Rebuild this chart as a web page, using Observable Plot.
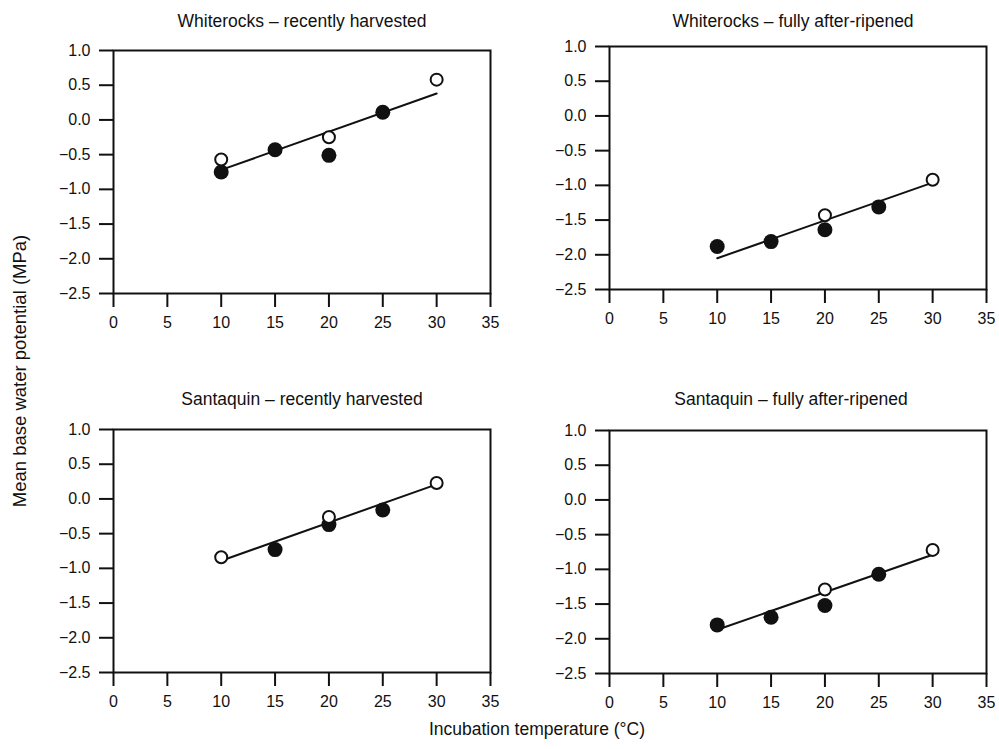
<!DOCTYPE html>
<html>
<head>
<meta charset="utf-8">
<script src="https://cdn.jsdelivr.net/npm/d3@7"></script>
<script src="https://cdn.jsdelivr.net/npm/@observablehq/plot@0.6"></script>
<style>
  html, body { margin: 0; padding: 0; background: #fff; }
  #wrap { position: relative; width: 999px; height: 749px; overflow: hidden; background: #fff;
          font-family: "Liberation Sans", Arial, Helvetica, sans-serif; color: #111; }
  #wrap > svg, #wrap > .p { position: absolute; }
</style>
</head>
<body>
<div id="wrap"></div>
<script>
// ---- data ----
const xTicks = [0, 5, 10, 15, 20, 25, 30, 35];
const yTicks = [-2.5, -2.0, -1.5, -1.0, -0.5, 0.0, 0.5, 1.0];
const fitTemp = [10, 30];

// Whiterocks – recently harvested
const wrRhTitle = "Whiterocks – recently harvested";
const wrRhFilledTemp = [10, 15, 20, 25];
const wrRhFilled = [-0.75, -0.43, -0.51, 0.11];
const wrRhOpenTemp = [10, 20, 30];
const wrRhOpen = [-0.57, -0.25, 0.58];
const wrRhFit = [-0.72, 0.38];

// Whiterocks – fully after-ripened
const wrFaTitle = "Whiterocks – fully after-ripened";
const wrFaFilledTemp = [10, 15, 20, 25];
const wrFaFilled = [-1.88, -1.81, -1.64, -1.31];
const wrFaOpenTemp = [20, 30];
const wrFaOpen = [-1.43, -0.92];
const wrFaFit = [-2.05, -0.96];

// Santaquin – recently harvested
const sqRhTitle = "Santaquin – recently harvested";
const sqRhFilledTemp = [15, 20, 25];
const sqRhFilled = [-0.73, -0.37, -0.16];
const sqRhOpenTemp = [10, 20, 30];
const sqRhOpen = [-0.84, -0.26, 0.23];
const sqRhFit = [-0.89, 0.21];

// Santaquin – fully after-ripened
const sqFaTitle = "Santaquin – fully after-ripened";
const sqFaFilledTemp = [10, 15, 20, 25];
const sqFaFilled = [-1.80, -1.69, -1.52, -1.07];
const sqFaOpenTemp = [20, 30];
const sqFaOpen = [-1.29, -0.72];
const sqFaFit = [-1.87, -0.79];

const xLabel = "Incubation temperature (°C)";
const yLabel = "Mean base water potential (MPa)";

// ---- drawing ----
const wrap = document.getElementById("wrap");
const ink = "#111";
const fmt = d3.format(".1f");
const pairs = (a, b) => a.map((t, i) => ({t, v: b[i]}));

function panel(cfg) {
  const svg = Plot.plot({
    width: 447,
    height: 328,
    marginLeft: 60,
    marginRight: 10,
    marginTop: 40,
    marginBottom: 45,
    style: {fontSize: "16px", fontFamily: "'Liberation Sans', Arial, Helvetica, sans-serif", color: ink, background: "transparent", overflow: "visible"},
    x: {domain: [0, 35]},
    y: {domain: [-2.5, 1.0]},
    marks: [
      Plot.axisX({ticks: xTicks, tickSize: 14, tickPadding: 9, strokeWidth: 2, label: null, tickFormat: d => String(d)}),
      Plot.axisY({ticks: yTicks, tickSize: 14, tickPadding: 9, strokeWidth: 2, label: null, tickFormat: fmt}),
      Plot.frame({stroke: ink, strokeWidth: 2}),
      Plot.line(pairs(fitTemp, cfg.fit), {x: "t", y: "v", stroke: ink, strokeWidth: 2}),
      Plot.dot(pairs(cfg.filledT, cfg.filled), {x: "t", y: "v", r: 7.5, fill: ink, stroke: null}),
      Plot.dot(pairs(cfg.openT, cfg.open), {x: "t", y: "v", r: 6, fill: "#fff", stroke: ink, strokeWidth: 2}),
      Plot.text([cfg.title], {text: d => d, frameAnchor: "top", lineAnchor: "bottom", dy: cfg.titleDy, dx: cfg.titleDx || 0, fontSize: 17.5, fill: ink})
    ]
  });
  svg.style.left = cfg.left + "px";
  svg.style.top = cfg.top + "px";
  svg.style.position = "absolute";
  wrap.appendChild(svg);
}

panel({title: wrRhTitle, filledT: wrRhFilledTemp, filled: wrRhFilled, openT: wrRhOpenTemp, open: wrRhOpen, fit: wrRhFit, left: 53, top: 10, titleDy: -24});
panel({title: wrFaTitle, filledT: wrFaFilledTemp, filled: wrFaFilled, openT: wrFaOpenTemp, open: wrFaOpen, fit: wrFaFit, left: 549, top: 6, titleDy: -20, titleDx: -5});
panel({title: sqRhTitle, filledT: sqRhFilledTemp, filled: sqRhFilled, openT: sqRhOpenTemp, open: sqRhOpen, fit: sqRhFit, left: 53, top: 389, titleDy: -25});
panel({title: sqFaTitle, filledT: sqFaFilledTemp, filled: sqFaFilled, openT: sqFaOpenTemp, open: sqFaOpen, fit: sqFaFit, left: 549, top: 390, titleDy: -26, titleDx: -7});

// shared axis labels
const ov = d3.select(wrap).append("svg")
  .attr("width", 999).attr("height", 749)
  .style("left", "0px").style("top", "0px").style("pointer-events", "none")
  .style("font-family", "'Liberation Sans', Arial, Helvetica, sans-serif");
ov.append("text").attr("x", 537).attr("y", 735).attr("text-anchor", "middle")
  .attr("font-size", 17.5).attr("fill", ink).text(xLabel);
ov.append("text").attr("transform", "translate(26,371) rotate(-90)").attr("text-anchor", "middle")
  .attr("font-size", 18.5).attr("fill", ink).text(yLabel);
</script>
</body>
</html>
